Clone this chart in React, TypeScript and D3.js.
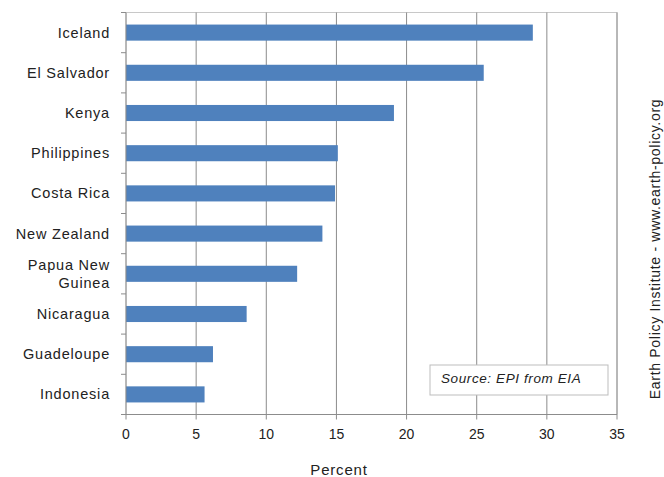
import React from "react";
import * as d3 from "d3";

const countries = ["Iceland", "El Salvador", "Kenya", "Philippines", "Costa Rica", "New Zealand", "Papua New Guinea", "Nicaragua", "Guadeloupe", "Indonesia"];
const labelLines = [["Iceland"], ["El Salvador"], ["Kenya"], ["Philippines"], ["Costa Rica"], ["New Zealand"], ["Papua New", "Guinea"], ["Nicaragua"], ["Guadeloupe"], ["Indonesia"]];
const shares = [29.0, 25.5, 19.1, 15.1, 14.9, 14.0, 12.2, 8.6, 6.2, 5.6];
const xTicks = [0, 5, 10, 15, 20, 25, 30, 35];

export default function App() {
  const W = 664, H = 477;
  const left = 126, right = 617, top = 12.5, bottom = 414.5;
  const x = d3.scaleLinear().domain([0, 35]).range([left, right]);
  const y = d3.scaleBand<string>().domain(countries).range([top, bottom]).paddingInner(0.6).paddingOuter(0.3);
  const step = (bottom - top) / countries.length;
  const font = "Liberation Sans, Arial, sans-serif";
  return (
    <svg width={W} height={H} style={{ position: "absolute", left: 0, top: 0 }} fontFamily={font}>
      <rect x={0} y={0} width={W} height={H} fill="#fff" />
      <rect x={left} y={top} width={right - left} height={bottom - top} fill="none" stroke="#c8c8c8" strokeWidth={1} />
      {xTicks.slice(1).map((t) => (
        <line key={t} x1={x(t)} x2={x(t)} y1={top} y2={bottom} stroke="#8c8c8c" strokeWidth={1} />
      ))}
      {countries.map((c, i) => (
        <rect key={c} x={x(0)} y={y(c)!} width={x(shares[i]) - x(0)} height={y.bandwidth()} fill="#4F81BD" />
      ))}
      <line x1={left} x2={left} y1={top} y2={bottom} stroke="#8c8c8c" strokeWidth={1} />
      {d3.range(countries.length + 1).map((i) => (
        <line key={i} x1={left - 5} x2={left} y1={top + i * step} y2={top + i * step} stroke="#8c8c8c" />
      ))}
      <line x1={left - 5} x2={right} y1={bottom} y2={bottom} stroke="#8c8c8c" strokeWidth={1} />
      {xTicks.map((t) => (
        <g key={t}>
          <line x1={x(t)} x2={x(t)} y1={bottom} y2={bottom + 5} stroke="#8c8c8c" />
          <text x={x(t)} y={439} textAnchor="middle" fontSize={14} fill="#222">{t}</text>
        </g>
      ))}
      {countries.map((c, i) => {
        const cy = y(c)! + y.bandwidth() / 2;
        const lines = labelLines[i];
        return (
          <text key={c} x={110} textAnchor="end" fontSize={14.5} letterSpacing={0.8} fill="#222">
            {lines.map((l, j) => (
              <tspan key={j} x={110} y={cy + 5 + (j - (lines.length - 1) / 2) * 18}>{l}</tspan>
            ))}
          </text>
        );
      })}
      <text x={339} y={475} textAnchor="middle" fontSize={15} letterSpacing={0.8} fill="#222">Percent</text>
      <text transform={`translate(660,249) rotate(-90)`} textAnchor="middle" fontSize={14} letterSpacing={0.7} fill="#222">Earth Policy Institute - www.earth-policy.org</text>
      <rect x={430} y={365} width={178} height={30} fill="#fff" stroke="#bdbdbd" strokeWidth={1} />
      <text x={441} y={383} fontSize={13.5} letterSpacing={0.6} fontStyle="italic" fill="#222">Source: EPI from EIA</text>
    </svg>
  );
}
